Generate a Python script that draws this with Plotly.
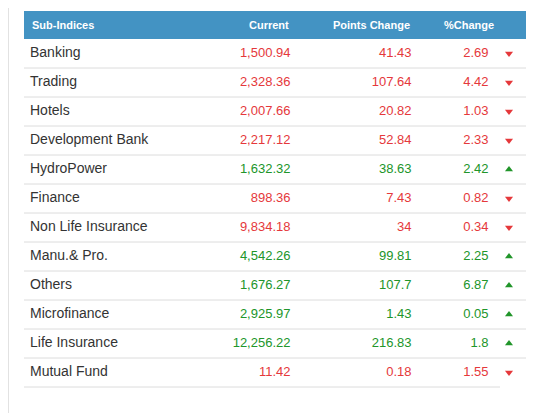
import plotly.graph_objects as go

# ---------------- data ----------------
categories = ["Banking", "Trading", "Hotels", "Development Bank", "HydroPower", "Finance",
              "Non Life Insurance", "Manu.& Pro.", "Others", "Microfinance",
              "Life Insurance", "Mutual Fund"]
current = [1500.94, 2328.36, 2007.66, 2217.12, 1632.32, 898.36,
           9834.18, 4542.26, 1676.27, 2925.97, 12256.22, 11.42]
points_change = [41.43, 107.64, 20.82, 52.84, 38.63, 7.43,
                 34, 99.81, 107.7, 1.43, 216.83, 0.18]
pct_change = [2.69, 4.42, 1.03, 2.33, 2.42, 0.82, 0.34, 2.25, 6.87, 0.05, 1.8, 1.55]
direction = ["down", "down", "down", "down", "up", "down",
             "down", "up", "up", "up", "up", "down"]
headers = ["Sub-Indices", "Current", "Points Change", "%Change"]

# ---------------- styling / layout ----------------
PAGE_W, PAGE_H = 542, 413
BODY_MARGIN = 8          # default HTML body margin offsets the figure
W, H = PAGE_W - BODY_MARGIN, PAGE_H - BODY_MARGIN
ROW_PX = 29.0
FIRST_CENTER = 53.5
HEADER_TOP = 11
X_LEFT, X_RIGHT = 24, 526
X_LABEL = 30
X_CUR, X_PTS, X_PCT, X_ARROW = 290.5, 411.5, 488.5, 509
X_PCT_HEAD = 495.5
RED, GREEN = "#e5383b", "#21952a"
HEAD_BG = "#4393c3"
GRID = "#dcdcdc"
FONT = "Liberation Sans, Arial, sans-serif"

colors = [RED if d == "down" else GREEN for d in direction]
symbols = ["triangle-down" if d == "down" else "triangle-up" for d in direction]

def fmt_g(v):
    return f"{v:g}"

fig = go.Figure()

fig.add_trace(go.Scatter(
    x=[X_LABEL] * len(categories), y=categories, mode="text", text=categories,
    textposition="middle right", textfont=dict(family=FONT, size=14, color="#333333"),
    hoverinfo="skip", showlegend=False))
fig.add_trace(go.Scatter(
    x=[X_CUR] * len(categories), y=categories, mode="text",
    text=[f"{v:,.2f}" for v in current],
    textposition="middle left", textfont=dict(family=FONT, size=13, color=colors),
    hoverinfo="skip", showlegend=False))
fig.add_trace(go.Scatter(
    x=[X_PTS] * len(categories), y=categories, mode="text",
    text=[fmt_g(v) for v in points_change],
    textposition="middle left", textfont=dict(family=FONT, size=13, color=colors),
    hoverinfo="skip", showlegend=False))
fig.add_trace(go.Scatter(
    x=[X_PCT] * len(categories), y=categories, mode="text",
    text=[fmt_g(v) for v in pct_change],
    textposition="middle left", textfont=dict(family=FONT, size=13, color=colors),
    hoverinfo="skip", showlegend=False))
fig.add_trace(go.Scatter(
    x=[X_ARROW] * len(categories), y=categories, mode="markers",
    marker=dict(symbol=symbols, size=7, color=colors, line=dict(width=0)),
    hoverinfo="skip", showlegend=False))

shapes = []
# left page border
shapes.append(dict(type="line", xref="x", yref="paper", x0=8.5, x1=8.5, y0=0, y1=1,
                   line=dict(color="#e2e2e2", width=1)))
# header background
head_y1 = -0.5
head_y0 = -0.5 - (FIRST_CENTER - ROW_PX / 2 - HEADER_TOP) / ROW_PX
shapes.append(dict(type="rect", xref="x", yref="y", x0=X_LEFT, x1=X_RIGHT,
                   y0=head_y0, y1=head_y1, fillcolor=HEAD_BG, line=dict(width=0), layer="below"))
# row separators
for i in range(len(categories)):
    xr = X_RIGHT if i < len(categories) - 1 else 500
    shapes.append(dict(type="line", xref="x", yref="y", x0=X_LEFT, x1=xr,
                       y0=i + 0.5, y1=i + 0.5, line=dict(color=GRID, width=1), layer="below"))

head_center = (head_y0 + head_y1) / 2
hfont = dict(family=FONT, size=11, color="white")
annotations = [
    dict(x=X_LABEL, y=head_center, xref="x", yref="y", text=f"<b>{headers[0]}</b>",
         showarrow=False, xanchor="left", yanchor="middle", font=hfont),
    dict(x=X_CUR + 0.5, y=head_center, xref="x", yref="y", text=f"<b>{headers[1]}</b>",
         showarrow=False, xanchor="right", yanchor="middle", font=hfont),
    dict(x=X_PTS, y=head_center, xref="x", yref="y", text=f"<b>{headers[2]}</b>",
         showarrow=False, xanchor="right", yanchor="middle", font=hfont),
    dict(x=X_PCT_HEAD, y=head_center, xref="x", yref="y", text=f"<b>{headers[3]}</b>",
         showarrow=False, xanchor="right", yanchor="middle", font=hfont),
]

fig.update_layout(
    width=W, height=H, margin=dict(l=0, r=0, t=0, b=0),
    paper_bgcolor="white", plot_bgcolor="white",
    xaxis=dict(range=[BODY_MARGIN, PAGE_W], visible=False, fixedrange=True),
    yaxis=dict(type="category", categoryarray=categories, categoryorder="array",
               range=[(PAGE_H - FIRST_CENTER) / ROW_PX, (BODY_MARGIN - FIRST_CENTER) / ROW_PX],
               visible=False, fixedrange=True),
    shapes=shapes, annotations=annotations,
)

fig.write_html("out.html")
